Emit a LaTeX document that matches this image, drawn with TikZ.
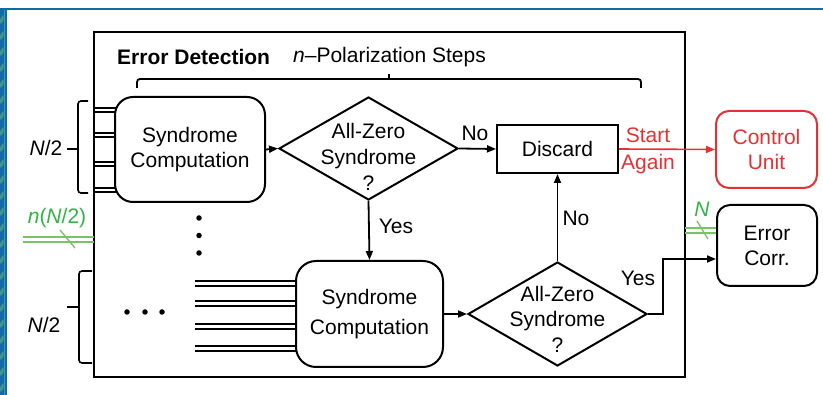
\documentclass[tikz,border=0pt]{standalone}
\usepackage{fontspec}
\setmainfont{Liberation Sans}
\usetikzlibrary{arrows.meta,shapes.geometric}
\definecolor{frameblue}{RGB}{16,108,164}
\definecolor{framelight}{RGB}{70,145,195}
\definecolor{hatchc}{RGB}{75,145,140}
\definecolor{gtext}{RGB}{50,180,70}
\definecolor{gline}{RGB}{120,195,100}
\definecolor{rred}{RGB}{228,50,50}
\begin{document}
\begin{tikzpicture}[x=1pt,y=-1pt,
  txt/.style={font=\fontsize{21}{25}\selectfont,inner sep=0pt,align=center},
  box/.style={draw,line width=2pt,rounded corners=18pt,fill=white,inner sep=0pt,align=center,font=\fontsize{21}{25}\selectfont},
  sqbox/.style={draw,line width=2pt,fill=white,inner sep=0pt,align=center,font=\fontsize{21}{25}\selectfont},
  dia/.style={draw,diamond,line width=2pt,inner sep=0pt,fill=white},
  arr/.style={line width=1.8pt,-{Triangle[length=9pt,width=7pt]}},
  wire/.style={line width=1.8pt},
  gwire/.style={gline,line width=1.5pt},
  dot/.style={circle,fill=black,inner sep=0pt,minimum size=5.5pt}
]
\useasboundingbox (0,0) rectangle (823,395);
\fill[white] (0,0) rectangle (823,395);
% blue frame
\fill[frameblue] (0,8) rectangle (6.5,395);
\fill[frameblue] (0,8) rectangle (823,10.5);
\begin{scope}
  \clip (0,10.5) rectangle (3.6,395);
  \foreach \y in {0,16,...,400} \draw[hatchc,line width=3pt] (0,\y+7) -- (4,\y);
\end{scope}
\fill[framelight] (3.6,10.5) rectangle (4.8,395);

% outer frame
\draw[line width=2pt] (94,32) rectangle (685,377);

% title texts
\node[txt,anchor=west,font=\fontsize{21}{25}\selectfont\bfseries] (title) at (117,57) {Error Detection};
\node[txt,anchor=west] (steps) at (293,57) {\textit{n}–Polarization Steps};

% top bracket
\coordinate (brl) at (137,88);
\coordinate (brr) at (641,88);
\coordinate (brm) at (389,79);
\draw[wire,rounded corners=3pt] (brl) -- (137,79) -- (641,79) -- (brr);
\draw[wire] (brm) -- (389,74);

% input wires box 1
\foreach \y in {108,112,133,137,162,166,188,192}
  \draw[wire] (94,\y) -- (130,\y);
% input wires box 2
\foreach \y in {281,286,301,306,324,329,346,351}
  \draw[wire] (195,\y) -- (310,\y);

% left braces
\draw[line width=1.6pt,rounded corners=3pt] (88,101) -- (78,101) -- (78,193) -- (88,193);
\draw[line width=1.6pt] (78,149) -- (67,149);
\node[txt] (n2a) at (46,148) {\textit{N}/2};
\draw[line width=1.6pt,rounded corners=3pt] (92,271) -- (79,271) -- (79,363) -- (92,363);
\draw[line width=1.6pt] (79,307) -- (67,307);
\node[txt] (n2b) at (44,325) {\textit{N}/2};

% green bus in
\coordinate (ga) at (23,237);
\coordinate (gb) at (23,242);
\draw[gwire] (ga) -- (94,237);
\draw[gwire] (gb) -- (94,242);
\draw[gline,line width=1.3pt] (60,230) -- (75,248);
\node[txt,text=gtext] (gl) at (57,218) {\textit{n}(\textit{N}/2)};

% nodes
\node[box,minimum width=150pt,minimum height=105pt] (sc1) at (190,149.5) {Syndrome\\Computation};
\node[dia,minimum width=179pt,minimum height=103pt] (d1) at (368.5,148.5) {};
\node[txt,font=\fontsize{21}{26}\selectfont] (d1t) at (368.5,157) {All-Zero\\Syndrome\\?};
\node[sqbox,minimum width=121pt,minimum height=48pt] (dis) at (557.5,149) {Discard};
\node[box,draw=rred,text=rred,rounded corners=13pt,minimum width=101pt,minimum height=77pt,font=\fontsize{21}{25}\selectfont] (cu) at (766.5,149.5) {Control\\Unit};
\node[box,rounded corners=20pt,minimum width=147pt,minimum height=106pt,font=\fontsize{21}{30}\selectfont] (sc2) at (369.5,314) {Syndrome\\Computation};
\node[dia,minimum width=179pt,minimum height=104pt] (d2) at (557.5,314) {};
\node[txt,font=\fontsize{21}{25.5}\selectfont] (d2t) at (557.5,319) {All-Zero\\Syndrome\\?};
\node[box,rounded corners=13pt,minimum width=100pt,minimum height=81pt] (ec) at (767,245.5) {Error\\Corr.};

% dots
\node[dot] (v1) at (199,218) {};
\node[dot] (v2) at (199,235.5) {};
\node[dot] (v3) at (199,253) {};
\node[dot] (h1) at (127,312) {};
\node[dot] (h2) at (145,312) {};
\node[dot] (h3) at (162,312) {};

% connectors
\draw[arr] (sc1.east) -- (d1.west);
\draw[arr] (d1.east) -- (dis.west);
\node[txt] (no1) at (475,133) {No};
\draw[arr,rred,line width=1.6pt] (dis.east) -- (cu.west);
\node[txt,text=rred,font=\fontsize{21}{27}\selectfont] (sa) at (648,151) {Start\\Again};
\draw[arr] (d1.south) -- (sc2.north);
\node[txt] (yes1) at (396,226) {Yes};
\draw[arr] (sc2.east) -- (d2.west);
\draw[arr] (d2.north) -- (dis.south);
\node[txt] (no2) at (576,218) {No};
\coordinate (yb) at (663,259);
\draw[arr] (d2.east) -| (yb) -- (yb -| ec.west);
\node[txt] (yes2) at (638,278) {Yes};

% green bus out
\coordinate (gc) at (685,228);
\coordinate (gd) at (685,233);
\draw[gwire] (gc) -- (gc -| ec.west);
\draw[gwire] (gd) -- (gd -| ec.west);
\draw[gline,line width=1.3pt] (697,221) -- (708,239);
\node[txt,text=gtext] (gN) at (702,209) {\textit{N}};
\end{tikzpicture}
\end{document}
